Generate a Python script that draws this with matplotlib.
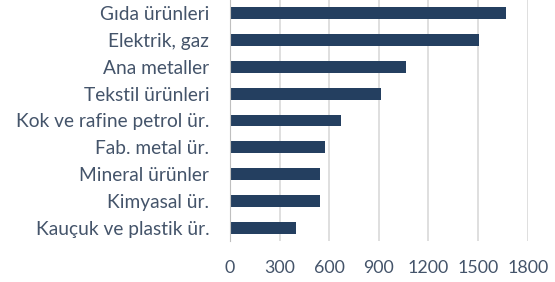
import matplotlib
matplotlib.use("Agg")
import matplotlib.pyplot as plt

categories = ["Gıda ürünleri", "Elektrik, gaz", "Ana metaller", "Tekstil ürünleri",
              "Kok ve rafine petrol ür.", "Fab. metal ür.", "Mineral ürünler",
              "Kimyasal ür.", "Kauçuk ve plastik ür."]
values = [1668, 1504, 1067, 913, 670, 573, 543, 543, 399]
xticks = [0, 300, 600, 900, 1200, 1500, 1800]

plt.rcParams['font.family'] = ['Lato', 'DejaVu Sans']
fig = plt.figure(figsize=(5.55, 2.82), dpi=100)
ax = fig.add_axes([230/555, 1-241/282, (527.7-230)/555, 241/282])

ypos = list(range(len(categories)))
ax.barh(ypos, values, height=0.44, color="#243F60", zorder=3)
ax.set_ylim(len(categories)-0.5, -0.5)
ax.set_xlim(0, 1800)
ax.set_xticks(xticks)
ax.set_yticks(ypos)
ax.set_yticklabels(categories)
ax.grid(axis='x', color='#d9d9d9', linewidth=1.2, zorder=0)
for s in ['top', 'right', 'bottom']:
    ax.spines[s].set_visible(False)
ax.spines['left'].set_color('#bfbfbf')
ax.spines['left'].set_zorder(4)
ax.tick_params(axis='both', length=0, colors='#44546A')
ax.tick_params(axis='y', labelsize=13.8, pad=15)
ax.tick_params(axis='x', labelsize=12.8, pad=14)
fig.savefig("out.png", dpi=100)
